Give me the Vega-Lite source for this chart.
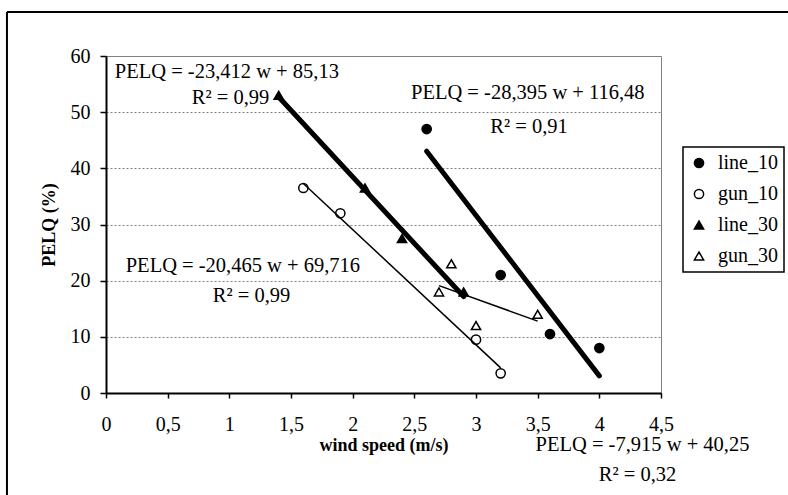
{
  "$schema": "https://vega.github.io/schema/vega-lite/v6.json",
  "width": 555,
  "height": 337,
  "autosize": "none",
  "padding": {"left": 106, "top": 56, "right": 127, "bottom": 102},
  "background": "white",
  "config": {
    "font": "Liberation Serif",
    "view": {"stroke": "#808080", "strokeWidth": 1},
    "axis": {
      "labelFont": "Liberation Serif", "labelFontSize": 20, "labelColor": "black",
      "titleFont": "Liberation Serif", "titleFontSize": 18, "titleFontWeight": "bold", "titleColor": "black",
      "domainColor": "black", "domainWidth": 2, "tickColor": "black", "tickWidth": 1.5, "tickSize": 5,
      "gridColor": "#808080", "gridDash": [2, 2], "gridWidth": 1
    },
    "legend": {
      "orient": "none", "legendX": 577, "legendY": 91,
      "strokeColor": "black", "strokeWidth": 1.5, "padding": 6,
      "labelFont": "Liberation Serif", "labelFontSize": 20, "labelColor": "black",
      "labelOffset": 9, "rowPadding": 11,
      "symbolStrokeColor": "black", "symbolStrokeWidth": 1.5, "fillColor": "white"
    }
  },
  "datasets": {
    "points": [
      {"series": "line_10", "w": 2.6, "PELQ": 47},
      {"series": "line_10", "w": 3.2, "PELQ": 21},
      {"series": "line_10", "w": 3.6, "PELQ": 10.5},
      {"series": "line_10", "w": 4.0, "PELQ": 8},
      {"series": "gun_10", "w": 1.6, "PELQ": 36.5},
      {"series": "gun_10", "w": 1.9, "PELQ": 32},
      {"series": "gun_10", "w": 3.0, "PELQ": 9.5},
      {"series": "gun_10", "w": 3.2, "PELQ": 3.5},
      {"series": "line_30", "w": 1.4, "PELQ": 53},
      {"series": "line_30", "w": 2.1, "PELQ": 36.5},
      {"series": "line_30", "w": 2.4, "PELQ": 27.5},
      {"series": "line_30", "w": 2.9, "PELQ": 18},
      {"series": "gun_30", "w": 2.7, "PELQ": 18},
      {"series": "gun_30", "w": 2.8, "PELQ": 23},
      {"series": "gun_30", "w": 3.0, "PELQ": 12},
      {"series": "gun_30", "w": 3.5, "PELQ": 14}
    ],
    "notes": [
      {"label": "PELQ = -23,412 w + 85,13", "w": 0.98, "PELQ": 57.1},
      {"label": "R² = 0,99", "w": 1.01, "PELQ": 52.5},
      {"label": "PELQ = -28,395 w + 116,48", "w": 3.42, "PELQ": 53.4},
      {"label": "R² = 0,91", "w": 3.43, "PELQ": 47.4},
      {"label": "PELQ = -20,465 w + 69,716", "w": 1.11, "PELQ": 22.6},
      {"label": "R² = 0,99", "w": 1.18, "PELQ": 17.3},
      {"label": "PELQ = -7,915 w + 40,25", "w": 4.35, "PELQ": -9.3},
      {"label": "R² = 0,32", "w": 4.31, "PELQ": -14.6}
    ]
  },
  "layer": [
    {
      "data": {"name": "points"},
      "mark": {"type": "point", "filled": true, "strokeWidth": 1.5, "opacity": 1},
      "encoding": {
        "x": {
          "field": "w", "type": "quantitative", "title": "wind speed (m/s)",
          "scale": {"domain": [0, 4.5], "nice": false, "zero": false},
          "axis": {"values": [0, 0.5, 1, 1.5, 2, 2.5, 3, 3.5, 4, 4.5], "grid": false,
                   "labelFont": "Liberation Serif", "titleFont": "Liberation Serif",
                   "labelExpr": "replace(format(datum.value, '~g'), '.', ',')", "labelPadding": 16, "titlePadding": 2, "labelFlush": false}
        },
        "y": {
          "field": "PELQ", "type": "quantitative", "title": "PELQ (%)",
          "scale": {"domain": [0, 60], "nice": false},
          "axis": {"values": [0, 10, 20, 30, 40, 50, 60], "grid": true, "labelFont": "Liberation Serif", "titleFont": "Liberation Serif",
                   "labelPadding": 10, "titlePadding": 12, "tickSize": 6}
        },
        "shape": {"field": "series", "type": "nominal", "title": null,
                  "scale": {"domain": ["line_10", "gun_10", "line_30", "gun_30"], "range": ["circle", "circle", "triangle-up", "triangle-up"]}},
        "fill": {"field": "series", "type": "nominal", "title": null,
                 "scale": {"domain": ["line_10", "gun_10", "line_30", "gun_30"], "range": ["black", "white", "black", "white"]}},
        "stroke": {"field": "series", "type": "nominal", "title": null,
                 "scale": {"domain": ["line_10", "gun_10", "line_30", "gun_30"], "range": ["black", "black", "black", "black"]}},
        "size": {"field": "series", "type": "nominal", "title": null,
                 "scale": {"domain": ["line_10", "gun_10", "line_30", "gun_30"], "range": [85, 85, 130, 130]}}
      }
    },
    {
      "data": {"name": "points"},
      "transform": [
        {"filter": "datum.series == 'line_10' || datum.series == 'line_30'"},
        {"regression": "PELQ", "on": "w", "groupby": ["series"]}
      ],
      "mark": {"type": "line", "color": "black", "strokeWidth": 5, "strokeCap": "round"},
      "encoding": {
        "x": {"field": "w", "type": "quantitative", "title": "wind speed (m/s)"},
        "y": {"field": "PELQ", "type": "quantitative", "title": "PELQ (%)"},
        "detail": {"field": "series", "type": "nominal"}
      }
    },
    {
      "data": {"name": "points"},
      "transform": [
        {"filter": "datum.series == 'gun_10' || datum.series == 'gun_30'"},
        {"regression": "PELQ", "on": "w", "groupby": ["series"]}
      ],
      "mark": {"type": "line", "color": "black", "strokeWidth": 1.5},
      "encoding": {
        "x": {"field": "w", "type": "quantitative", "title": "wind speed (m/s)"},
        "y": {"field": "PELQ", "type": "quantitative", "title": "PELQ (%)"},
        "detail": {"field": "series", "type": "nominal"}
      }
    },
    {
      "data": {"name": "notes"},
      "mark": {"type": "text", "font": "Liberation Serif", "fontSize": 20.5, "color": "black", "align": "center", "baseline": "middle"},
      "encoding": {
        "x": {"field": "w", "type": "quantitative", "title": "wind speed (m/s)"},
        "y": {"field": "PELQ", "type": "quantitative", "title": "PELQ (%)"},
        "text": {"field": "label", "type": "nominal"}
      }
    },
    {
      "data": {"values": [{"edge": "top"}]},
      "mark": {"type": "rule", "color": "black", "strokeWidth": 2},
      "encoding": {
        "x": {"datum": -0.803, "type": "quantitative", "title": "wind speed (m/s)"},
        "x2": {"datum": 6},
        "y": {"datum": 67.85, "type": "quantitative", "title": "PELQ (%)"}
      }
    },
    {
      "data": {"values": [{"edge": "left"}]},
      "mark": {"type": "rule", "color": "black", "strokeWidth": 2},
      "encoding": {
        "x": {"datum": -0.803, "type": "quantitative", "title": "wind speed (m/s)"},
        "y": {"datum": 67.85, "type": "quantitative", "title": "PELQ (%)"},
        "y2": {"datum": -20}
      }
    }
  ]
}
